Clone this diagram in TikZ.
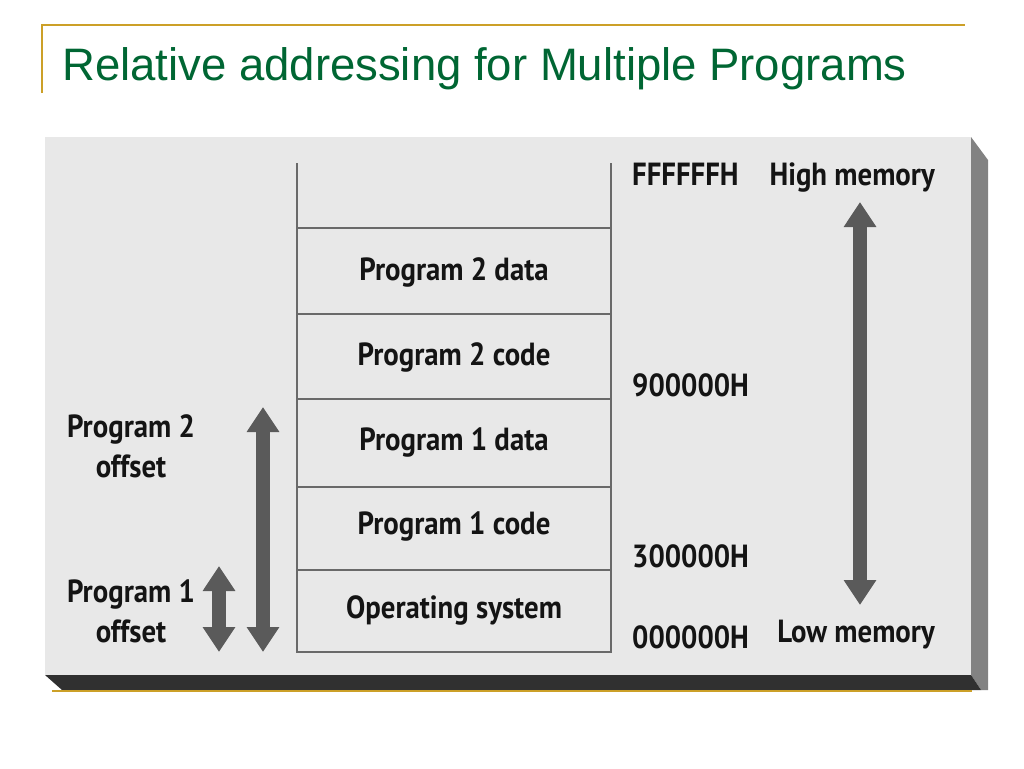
\documentclass[tikz,border=0pt]{standalone}
\usepackage{fontspec}
\usetikzlibrary{arrows.meta}
\setmainfont{Liberation Sans}
\newfontfamily\memfont[FakeStretch=0.9]{PT Sans}
\definecolor{titlegreen}{RGB}{0,102,51}
\definecolor{gold}{RGB}{204,160,40}
\definecolor{panelgrey}{RGB}{232,232,232}
\definecolor{sidegrey}{RGB}{130,130,130}
\definecolor{bardark}{RGB}{48,48,48}
\definecolor{linegrey}{RGB}{105,105,105}
\definecolor{arrowgrey}{RGB}{90,90,90}
\begin{document}
\begin{tikzpicture}[x=1pt, y=-1pt]
      \tikzstyle{every node}=[inner sep=0pt, text=black!92, font=\memfont\bfseries\fontsize{32}{40}\selectfont]
      \tikzstyle{memline}=[linegrey, line width=2.6pt]
      \tikzstyle{fatarrow}=[arrowgrey, line width=14pt, {Triangle[width=31pt, length=25pt]}-{Triangle[width=31pt, length=25pt]}]
      \useasboundingbox (0,0) rectangle (1024,768);

      % title
      \draw [gold, line width=1.5pt] (42,93) -- (42,25) -- (965,25);
      \node [anchor=base west, text=titlegreen, font=\fontsize{45.5}{50}\selectfont] (title) at (62,81)
        {Relative addressing for Multiple Programs};

      % panel
      \fill [sidegrey] (971,137) -- (988,160) -- (988,690) -- (981,690) -- (971,675) -- cycle;
      \fill [bardark] (45,675) -- (971,675) -- (981,690) -- (62,690) -- cycle;
      \fill [panelgrey] (45,137) rectangle (971,675);
      \draw [gold, line width=1.5pt] (52,691) -- (972,691);

      % memory stack
      \draw [memline] (297,163) -- (297,652) -- (611,652) -- (611,163);
      \foreach \y in {228, 314, 399, 487, 570}
      {
        \draw [memline] (297,\y) -- (611,\y);
      }
      \foreach \n/\y/\txt in {0/610/Operating system, 1/526/Program 1 code,
                             2/442/Program 1 data, 3/357/Program 2 code,
                             4/272/Program 2 data}
      {
        \path (454,\y) node (m\n) {\txt};
      }

      % addresses
      \foreach \n/\y/\txt in {f/185/FFFFFFH, nine/396/900000H,
                             three/567/300000H, zero/648/000000H}
      {
        \path (632,\y) node [anchor=base west] (a\n) {\txt};
      }
      \node [anchor=base east] (high) at (935,185) {High memory};
      \node [anchor=base east] (low) at (935,642) {Low memory};

      % offsets
      \node [align=center, anchor=base] (off2) at (131,477) {Program 2\\offset};
      \node [align=center, anchor=base] (off1) at (131,642) {Program 1\\offset};

      \coordinate (memtop) at (860,202);
      \coordinate (membot) at (860,605);
      \coordinate (p2top) at (263,407);
      \coordinate (p2bot) at (263,652);
      \coordinate (p1top) at (219,566);
      \coordinate (p1bot) at (219,652);

      \draw [fatarrow] (memtop) -- (membot);
      \draw [fatarrow] (p2top) -- (p2bot);
      \draw [fatarrow] (p1top) -- (p1bot);
\end{tikzpicture}
\end{document}
